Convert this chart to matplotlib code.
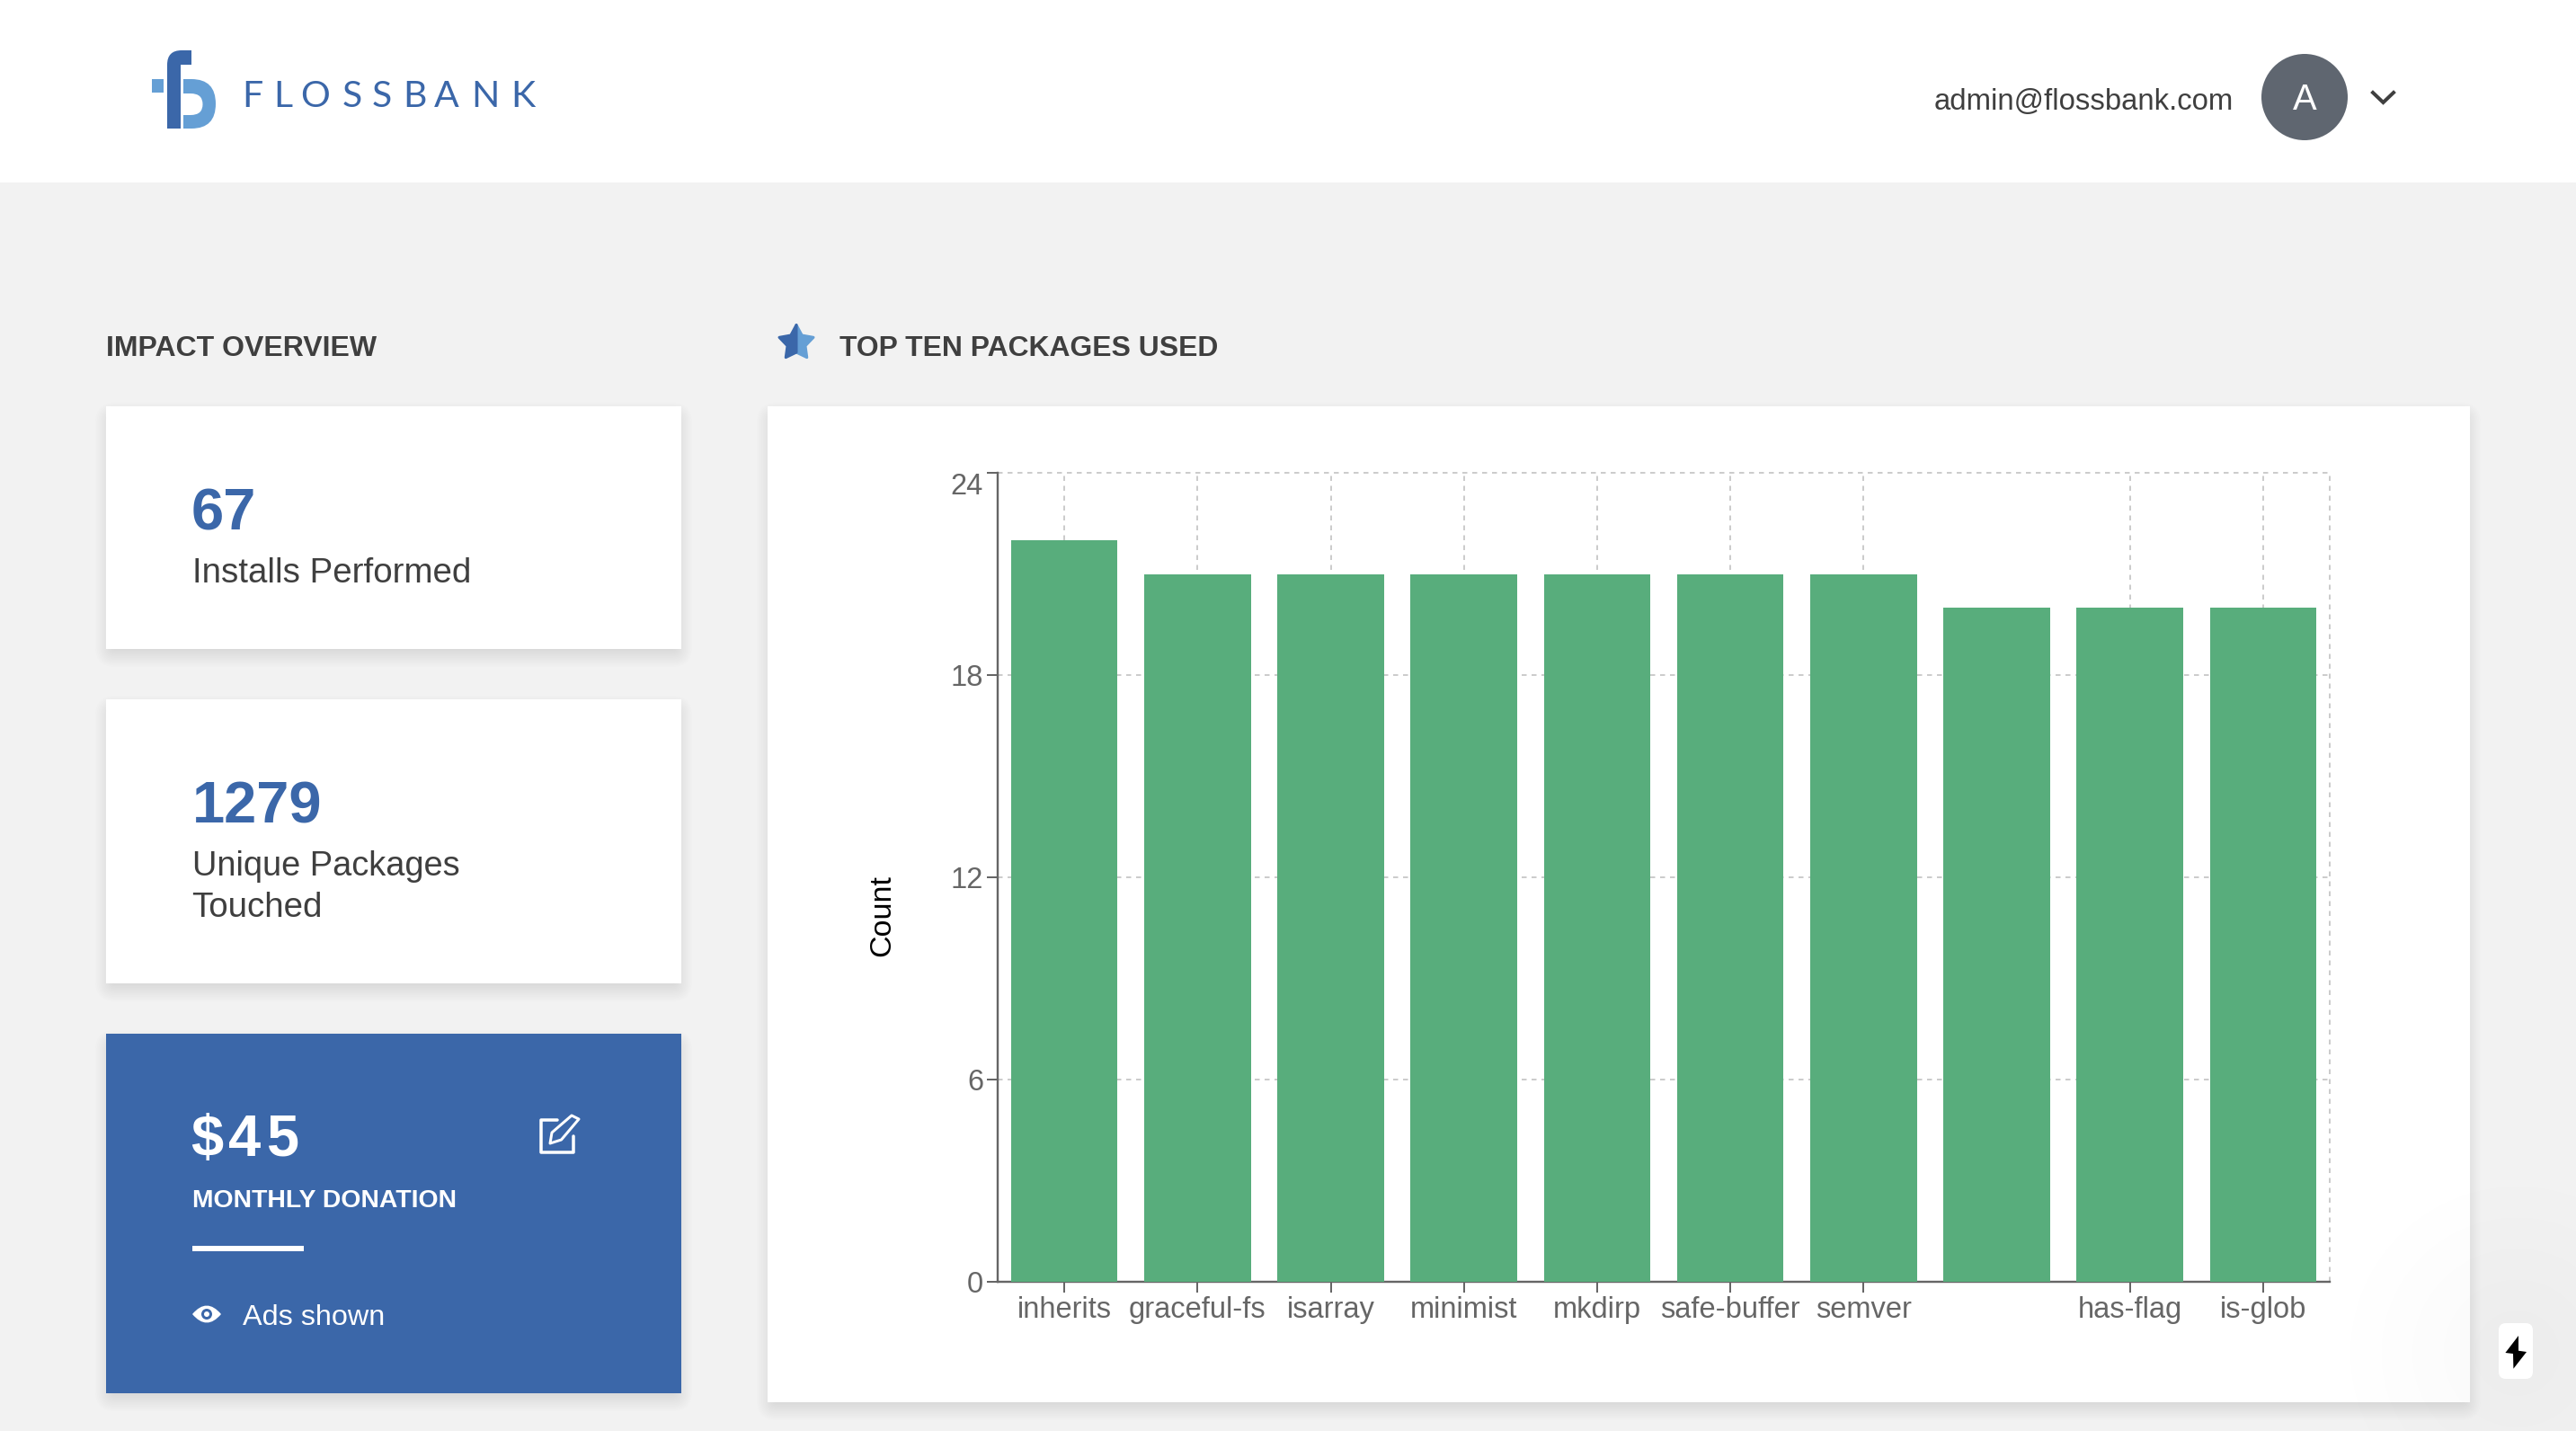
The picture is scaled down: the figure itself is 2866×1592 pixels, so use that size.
import numpy as np
import matplotlib
matplotlib.use("Agg")
import matplotlib.pyplot as plt
from matplotlib.patches import Rectangle, FancyBboxPatch, Circle, Polygon, PathPatch
from matplotlib.path import Path

WIDTH = 2866
HEIGHT = 1592

# chart data, the 8th label is not shown in the picture
packages = ["inherits", "graceful-fs", "isarray", "minimist", "mkdirp",
            "safe-buffer", "semver", "", "has-flag", "is-glob"]
counts = [22, 21, 21, 21, 21, 21, 21, 20, 20, 20]
y_ticks = [0, 6, 12, 18, 24]

installs = "67"
unique_packages = "1279"
donation = "$45"
email = "admin@flossbank.com"

BLUE = "#3b67a9"
LIGHT_BLUE = "#659fd5"
GREEN = "#58ad7c"
DARK_TEXT = "#3f3f3f"
AXIS = "#666666"
GRID = "#cccccc"
BG = "#f2f2f2"

plt.rcParams["font.family"] = ["Liberation Sans", "DejaVu Sans"]
plt.rcParams["lines.scale_dashes"] = False


def px(value):
    # pixels to points at dpi 100
    return value * 0.72


def card(ax, x0, y0, x1, y1, color):
    # soft box shadow from stacked transparent boxes
    for grow in np.linspace(-10, 12, 14):
        shadow = FancyBboxPatch((x0 - grow, y0 + 8 - grow), x1 - x0 + 2 * grow, y1 - y0 + 2 * grow,
                                boxstyle="round,pad=0,rounding_size=%f" % max(grow + 10, 1),
                                fc="black", ec="none", alpha=0.009)
        ax.add_patch(shadow)
    ax.add_patch(Rectangle((x0, y0), x1 - x0, y1 - y0, fc=color, ec="none"))


def label(ax, x, y, text, size, color=DARK_TEXT, weight="normal", **kw):
    ax.text(x, y, text, fontsize=px(size), color=color, fontweight=weight, va="baseline", **kw)


fig = plt.figure(figsize=(WIDTH / 100, HEIGHT / 100), dpi=100, facecolor=BG)

page = fig.add_axes([0, 0, 1, 1])
page.axis("off")

# header
page.add_patch(Rectangle((0, 0), WIDTH, 203, fc="white", ec="none"))

# logo
f_shape = Path([(186, 143), (186, 72), (186, 56), (202, 56), (213, 56), (213, 72), (201, 72), (201, 143), (186, 143)],
               [Path.MOVETO, Path.LINETO, Path.CURVE3, Path.CURVE3, Path.LINETO, Path.LINETO, Path.LINETO, Path.LINETO, Path.CLOSEPOLY])
page.add_patch(PathPatch(f_shape, fc=BLUE, ec="none"))
page.add_patch(Rectangle((169, 88), 13, 15, fc=LIGHT_BLUE, ec="none"))
b_shape = Path([(204, 88), (213, 88), (240, 88), (240, 115.5), (240, 143), (213, 143), (204, 143), (204, 128),
                (212, 128), (225.5, 128), (225.5, 116), (225.5, 104), (212, 104), (204, 104), (204, 88)],
               [Path.MOVETO, Path.LINETO, Path.CURVE3, Path.CURVE3, Path.CURVE3, Path.CURVE3, Path.LINETO, Path.LINETO,
                Path.LINETO, Path.CURVE3, Path.CURVE3, Path.CURVE3, Path.CURVE3, Path.LINETO, Path.CLOSEPOLY])
page.add_patch(PathPatch(b_shape, fc=LIGHT_BLUE, ec="none"))

logo_x = [269, 304, 334, 381, 414, 448, 483, 524, 568]
for letter, x in zip("FLOSSBANK", logo_x):
    page.text(x, 118.7, letter, fontsize=px(41), color=BLUE, family=["Lato", "DejaVu Sans"],
              fontweight="normal", va="baseline")

# user menu
label(page, 2152, 121.7, email, 32.9)
page.add_patch(Circle((2564, 108), 48, fc="#5f6670", ec="none"))
label(page, 2564, 121.7, "A", 40, color="white", ha="center")
page.plot([2640, 2651.5, 2663], [103, 114, 103], color=DARK_TEXT, lw=px(4), solid_joinstyle="miter")

# section titles
label(page, 118, 396, "IMPACT OVERVIEW", 32, weight="bold")
label(page, 934, 396, "TOP TEN PACKAGES USED", 31.9, weight="bold")

angles = np.deg2rad(-90 + 36 * np.arange(10))
radii = np.where(np.arange(10) % 2 == 0, 20, 10.5)
star = np.column_stack([886 + radii * np.cos(angles), 381.5 + radii * np.sin(angles)])
page.add_patch(Polygon(star[:6], fc=LIGHT_BLUE, ec=LIGHT_BLUE, lw=px(3), joinstyle="round"))
page.add_patch(Polygon(np.vstack([star[5:], star[:1]]), fc=BLUE, ec=BLUE, lw=px(3), joinstyle="round"))

# left cards
card(page, 118, 452, 758, 722, "white")
label(page, 213, 589, installs, 65, color=BLUE, weight="bold")
label(page, 214, 648, "Installs Performed", 38.5)

card(page, 118, 778, 758, 1094, "white")
label(page, 214, 915, unique_packages, 65, color=BLUE, weight="bold")
label(page, 214, 974, "Unique Packages", 38)
label(page, 213, 1020, "Touched", 38.5)

card(page, 118, 1150, 758, 1550, BLUE)
for char, x in zip(donation, [212, 254, 296]):
    label(page, x, 1286, char, 65, color="white", weight="bold")
label(page, 214, 1343, "MONTHLY DONATION", 28.4, color="white", weight="bold")
page.add_patch(Rectangle((214, 1386), 124, 6, fc="white", ec="none"))

# edit icon
page.plot([620, 602, 602, 638, 638], [1245.5, 1245.5, 1282, 1282, 1264], color="white", lw=px(3.5),
          solid_joinstyle="round", solid_capstyle="round")
page.add_patch(Polygon([(612, 1272), (614, 1260), (636, 1241), (644, 1245), (624.5, 1268)], closed=True,
                       fc="none", ec="white", lw=px(3), joinstyle="round"))

# eye icon
eye = Path([(214, 1462), (230, 1443), (246, 1462), (230, 1481), (214, 1462)],
           [Path.MOVETO, Path.CURVE3, Path.CURVE3, Path.CURVE3, Path.CURVE3])
page.add_patch(PathPatch(eye, fc="white", ec="none"))
page.add_patch(Circle((230, 1462), 6, fc=BLUE, ec="none"))
page.add_patch(Circle((230, 1462), 3, fc="white", ec="none"))
label(page, 270, 1474, "Ads shown", 32.4, color="white")

# chart card
card(page, 854, 452, 2748, 1560, "white")

# faint glow around the bolt button
yy, xx = np.mgrid[1200:HEIGHT, 2500:WIDTH]
dist = np.hypot(xx - 2800, yy - 1505)
glow = np.zeros(dist.shape + (4,))
glow[..., 3] = 0.025 * np.clip(1 - dist / 220, 0, 1)
page.imshow(glow, extent=(2500, WIDTH, HEIGHT, 1200), aspect="auto", zorder=3)

page.add_patch(FancyBboxPatch((2780, 1472), 38, 62, boxstyle="round,pad=0,rounding_size=8", fc="white", ec="none", zorder=4))
page.add_patch(Polygon([(2802, 1486), (2787.4, 1505), (2796, 1506), (2796.4, 1522.7), (2811, 1504), (2802, 1502.7)],
                       fc="black", ec="none", zorder=5))

page.set_xlim(0, WIDTH)
page.set_ylim(HEIGHT, 0)

# bar chart
ax = fig.add_axes([1110 / WIDTH, 1 - 1426 / HEIGHT, (2592 - 1110) / WIDTH, (1426 - 526) / HEIGHT])
ax.patch.set_alpha(0)
positions = np.arange(len(packages))
ax.bar(positions, counts, width=0.8, color=GREEN, zorder=3)
ax.set_xlim(-0.5, len(packages) - 0.5)
ax.set_ylim(0, 24)

shown = [i for i, name in enumerate(packages) if name]
ax.set_xticks(shown)
ax.set_xticklabels([packages[i] for i in shown])
ax.set_yticks(y_ticks)
ax.tick_params(axis="both", colors=AXIS, labelsize=px(32.7), length=px(12), width=px(2), pad=px(4))
ax.tick_params(axis="x", pad=px(4))
ax.get_yticklabels()[-1].set_verticalalignment("top")

ax.grid(True, color=GRID, lw=px(2), linestyle=(0, (px(5.5), px(5.5))), zorder=0, clip_on=False)
ax.set_axisbelow(True)
ax.axvline(len(packages) - 0.5, color=GRID, lw=px(2), linestyle=(0, (px(5.5), px(5.5))), zorder=0, clip_on=False)

for side in ["top", "right"]:
    ax.spines[side].set_visible(False)
for side in ["left", "bottom"]:
    ax.spines[side].set_color(AXIS)
    ax.spines[side].set_linewidth(px(2.4))

ax.set_ylabel("Count", fontsize=px(34), color="black")
ax.yaxis.set_label_coords((997 - 1110) / (2592 - 1110), 0.4533)

fig.savefig("out.png", dpi=100, facecolor=BG)
